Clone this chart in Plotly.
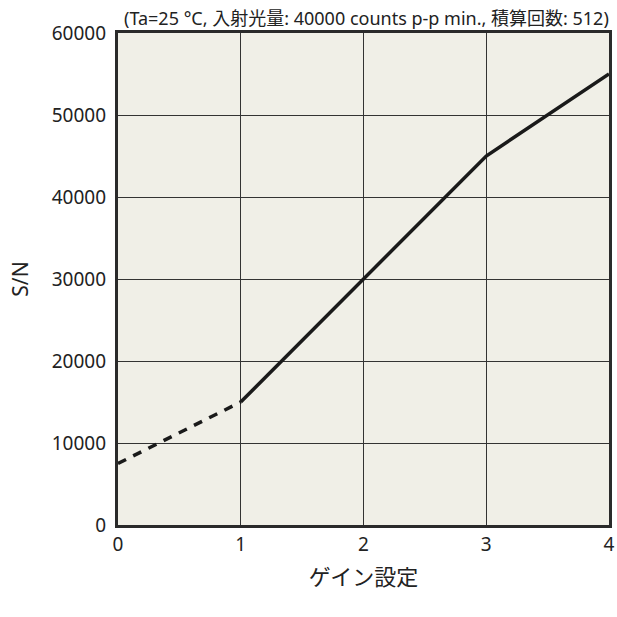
import plotly.graph_objects as go

gain_dashed = [0, 1]
sn_dashed = [7500, 15000]
gain_solid = [1, 2, 3, 4]
sn_solid = [15000, 30000, 45000, 55000]
x_ticks = [0, 1, 2, 3, 4]
y_ticks = [0, 10000, 20000, 30000, 40000, 50000, 60000]

FONT = "'Noto Sans', 'Noto Sans CJK JP', sans-serif"

fig = go.Figure()
fig.add_trace(go.Scatter(x=gain_dashed, y=sn_dashed, mode="lines",
                         line=dict(color="#1a1a1a", width=3.5, dash="9px,8px"),
                         showlegend=False))
fig.add_trace(go.Scatter(x=gain_solid, y=sn_solid, mode="lines",
                         line=dict(color="#1a1a1a", width=3.5),
                         showlegend=False))

fig.update_layout(
    width=617, height=617,
    margin=dict(l=118, r=8, t=33, b=92, autoexpand=False),
    paper_bgcolor="white",
    plot_bgcolor="#f0efe7",
    font=dict(family=FONT, size=19, color="#222222"),
    xaxis=dict(range=[0, 4], tickvals=x_ticks, showgrid=True, gridcolor="#333333", gridwidth=1,
               zeroline=False, showline=True, linecolor="#2a2a2a", linewidth=3.2, mirror=True,
               ticks="", ticklen=0, automargin=False,
               title=dict(text="ゲイン設定", font=dict(family="'Noto Sans CJK JP', sans-serif", size=22), standoff=14)),
    yaxis=dict(range=[0, 60000], tickvals=y_ticks, showgrid=True, gridcolor="#333333", gridwidth=1,
               zeroline=False, showline=True, linecolor="#2a2a2a", linewidth=3.2, mirror=True,
               ticks="outside", ticklen=5, tickcolor="rgba(0,0,0,0)", tickformat="d", automargin=False,
               title=dict(text="S/N", font=dict(size=21), standoff=18)),
    annotations=[dict(text="(Ta=25 °C, 入射光量: 40000 counts p-p min., 積算回数: 512)",
                      xref="paper", yref="paper", x=1.0, y=1.0, xanchor="right", yanchor="bottom",
                      xshift=2, yshift=1, showarrow=False,
                      font=dict(family=FONT, size=18))],
)
fig.write_html("out.html", config={"displayModeBar": False},
               post_script="document.body.style.margin='0';document.body.style.overflow='hidden';")
